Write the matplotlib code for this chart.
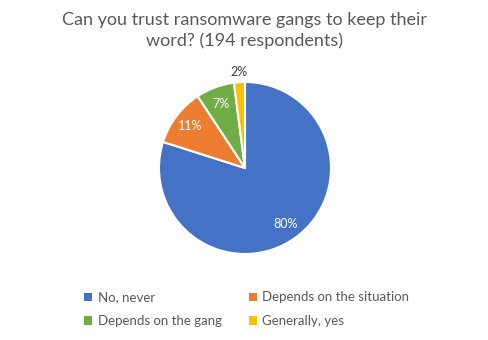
import numpy as np
import matplotlib.pyplot as plt
from matplotlib.patches import Patch

categories = ["No, never", "Depends on the situation", "Depends on the gang", "Generally, yes"]
counts = [155, 21, 14, 4]
colors = ["#4472C4", "#ED7D31", "#70AD47", "#FFC000"]

plt.rcParams['font.family'] = ['Lato', 'DejaVu Sans']

fig = plt.figure(figsize=(4.89, 3.40), dpi=100)
fig.text(0.5, 0.965, "Can you trust ransomware gangs to keep their\nword? (194 respondents)",
         ha='center', va='top', fontsize=13, color='#595959', linespacing=1.3)

r = 86
cx, cy = 245, 340 - 168
ax = fig.add_axes([(cx - r) / 489, (cy - r) / 340, 2 * r / 489, 2 * r / 340])
wedges, texts, autotexts = ax.pie(counts, colors=colors, startangle=90, counterclock=False,
                                  autopct=lambda p: f"{p:.0f}%", pctdistance=0.8,
                                  wedgeprops=dict(edgecolor='white', linewidth=1.5),
                                  textprops=dict(fontsize=9, color='white'))
# small slice label sits outside
last = autotexts[-1]
x, y = last.get_position()
last.set_position((x / 0.8 * 1.12, y / 0.8 * 1.12))
last.set_color('#404040')
ax.set_xlim(-1, 1)
ax.set_ylim(-1, 1)
ax.set_aspect('equal')

# legend fills column-first, so reorder to read row by row
order = [0, 2, 1, 3]
handles = [Patch(facecolor=colors[i]) for i in order]
labels = [categories[i] for i in order]
leg = fig.legend(handles, labels, loc='center', bbox_to_anchor=(0.505, 0.09), ncol=2,
                 frameon=False, fontsize=9.5, handlelength=0.6, handleheight=0.6,
                 handletextpad=0.4, columnspacing=2.1, labelspacing=0.9)
for t in leg.get_texts():
    t.set_color('#595959')

fig.savefig("out.png", dpi=100, facecolor='white')
